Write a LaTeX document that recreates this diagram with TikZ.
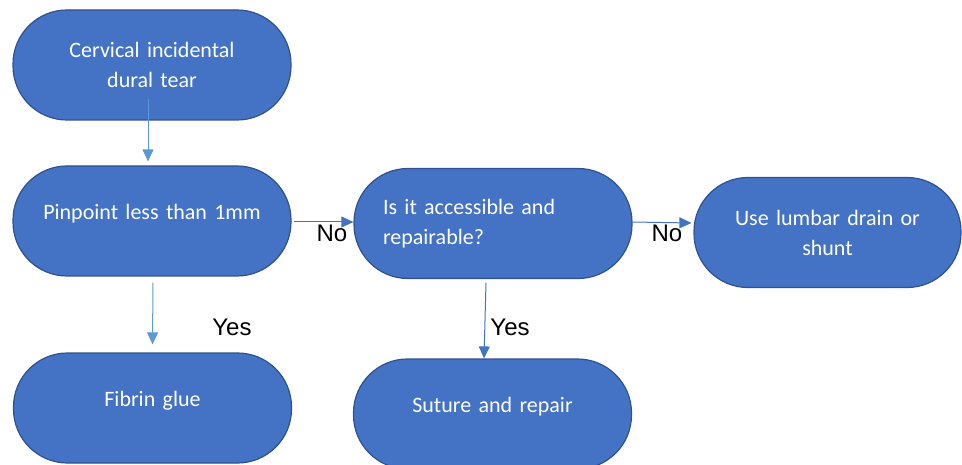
\documentclass[tikz,border=0pt]{standalone}
\usepackage{fontspec}
\newfontfamily\calibri{Carlito}
\newfontfamily\arialfont{Liberation Sans}
\usetikzlibrary{arrows.meta}
\definecolor{boxfill}{HTML}{4472C4}
\definecolor{boxline}{HTML}{2F528F}
\definecolor{lightarrow}{HTML}{5B9BD5}
\tikzset{
    flow/.style={rectangle, rounded corners=54pt, draw=boxline, line width=1.2pt,
        fill=boxfill, text=white, font=\calibri\fontsize{22}{30}\selectfont,
        text width=220pt, inner xsep=29pt, inner ysep=0pt,
        minimum height=110pt, align=center},
    oneline/.style={text depth=19pt},
    answer/.style={font=\arialfont\fontsize{24}{28}\selectfont, inner sep=0pt},
    >={Triangle[width=11pt,length=12pt]}
}
\begin{document}
\begin{tikzpicture}[x=1pt, y=-1pt]
            \useasboundingbox (0, 0) rectangle (962, 465);

            \node[flow] (cervical) at (152, 65) {Cervical incidental\\dural tear};
            \node[flow, oneline] (pinpoint) at (152, 221) {Pinpoint less than 1mm};
            \node[flow, align=left] (access) at (493, 223.5) {Is it accessible and\\repairable?};
            \node[flow, text width=209pt] (lumbar) at (827.5, 232.5) {Use lumbar drain or\\shunt};
            \node[flow, oneline] (fibrin) at (152.5, 408) {Fibrin glue};
            \node[flow, oneline] (suture) at (492.5, 414) {Suture and repair};

            \draw[->, lightarrow, line width=1pt] ([xshift=-4pt, yshift=22pt]cervical.south) -- ([xshift=-4pt, yshift=4pt]pinpoint.north);
            \draw[->, lightarrow, line width=1pt] ([xshift=1pt, yshift=-6pt]pinpoint.south) -- ([yshift=8pt]fibrin.north);
            \draw[->, boxfill, line width=1pt] ([xshift=2pt, yshift=-1pt]pinpoint.east) -- ([yshift=1.5pt]access.west);
            \draw[->, boxfill, line width=1pt] ([yshift=1.5pt]access.east) -- ([xshift=-2pt, yshift=9.5pt]lumbar.west);
            \draw[->, boxfill, line width=1pt] ([xshift=-7pt, yshift=-3.5pt]access.south) -- ([xshift=-8.5pt]suture.north);

            \node[answer] (no1) at (332, 233) {No};
            \node[answer] (no2) at (667, 233) {No};
            \node[answer] (yes1) at (232, 327) {Yes};
            \node[answer] (yes2) at (510, 327) {Yes};
\end{tikzpicture}
\end{document}
